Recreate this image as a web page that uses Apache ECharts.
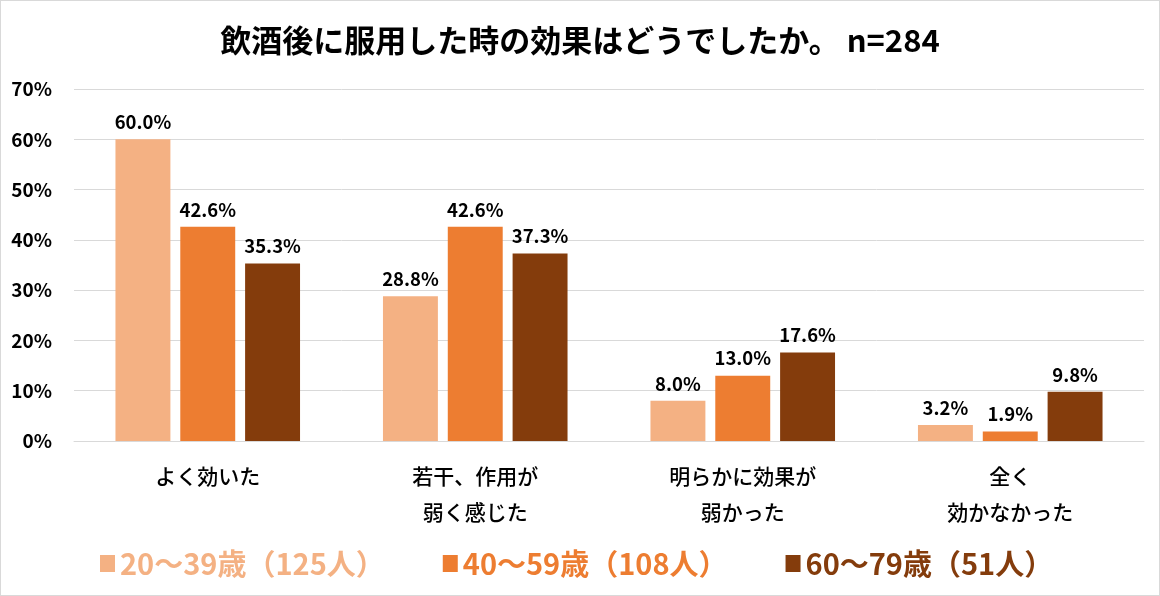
<!DOCTYPE html>
<html>
<head>
<meta charset="utf-8">
<script src="https://cdn.jsdelivr.net/npm/echarts@6/dist/echarts.min.js"></script>
<style>
  html, body { margin: 0; padding: 0; background: #fff; }
  #chart { width: 1160px; height: 596px; box-sizing: border-box; border: 1px solid #d9d9d9; }
</style>
</head>
<body>
<div id="chart"></div>
<script>
const categories = ['よく効いた', '若干、作用が\n弱く感じた', '明らかに効果が\n弱かった', '全く\n効かなかった'];
const seriesNames = ['20～39歳（125人）', '40～59歳（108人）', '60～79歳（51人）'];
const age20to39 = [60.0, 28.8, 8.0, 3.2];
const age40to59 = [42.6, 42.6, 13.0, 1.9];
const age60to79 = [35.3, 37.3, 17.6, 9.8];
const colors = ['#F4B183', '#ED7D31', '#843C0C'];

const font = '"Noto Sans CJK JP", "Noto Sans", sans-serif';
const chart = echarts.init(document.getElementById('chart'));

const values = [age20to39, age40to59, age60to79];

chart.setOption({
  animation: false,
  textStyle: { fontFamily: font },
  title: {
    text: '飲酒後に服用した時の効果はどうでしたか。 n=284',
    left: 'center',
    top: 19,
    textStyle: { fontSize: 31, fontWeight: 'bold', color: '#000', fontFamily: font }
  },
  legend: {
    bottom: 12,
    left: 94,
    itemGap: 58,
    itemWidth: 15,
    itemHeight: 17,
    icon: 'rect',
    textStyle: { fontSize: 29, fontWeight: 'bold', fontFamily: font },
    data: seriesNames.map((n, i) => ({ name: n, textStyle: { color: colors[i] } }))
  },
  grid: { left: 73, right: 15, top: 88, bottom: 154 },
  xAxis: {
    type: 'category',
    data: categories,
    axisLine: { lineStyle: { color: '#d9d9d9' } },
    axisTick: { show: false },
    axisLabel: { fontSize: 21, fontWeight: 500, color: '#000', lineHeight: 36, margin: 17, fontFamily: font }
  },
  yAxis: {
    type: 'value',
    min: 0,
    max: 70,
    interval: 10,
    axisLabel: { formatter: '{value}%', fontSize: 19, fontWeight: 'bold', color: '#000', margin: 22, align: 'right', fontFamily: font },
    splitLine: { lineStyle: { color: '#d9d9d9' } },
    axisLine: { show: false },
    axisTick: { show: false }
  },
  series: seriesNames.map((n, i) => ({
    name: n,
    type: 'bar',
    data: values[i],
    barGap: '18%',
    barCategoryGap: '31%',
    itemStyle: { color: colors[i] },
    label: {
      show: true,
      position: 'top',
      distance: 8,
      formatter: p => p.value.toFixed(1) + '%',
      fontSize: 18.5,
      fontWeight: 'bold',
      color: '#000',
      fontFamily: font
    }
  }))
});
</script>
</body>
</html>
